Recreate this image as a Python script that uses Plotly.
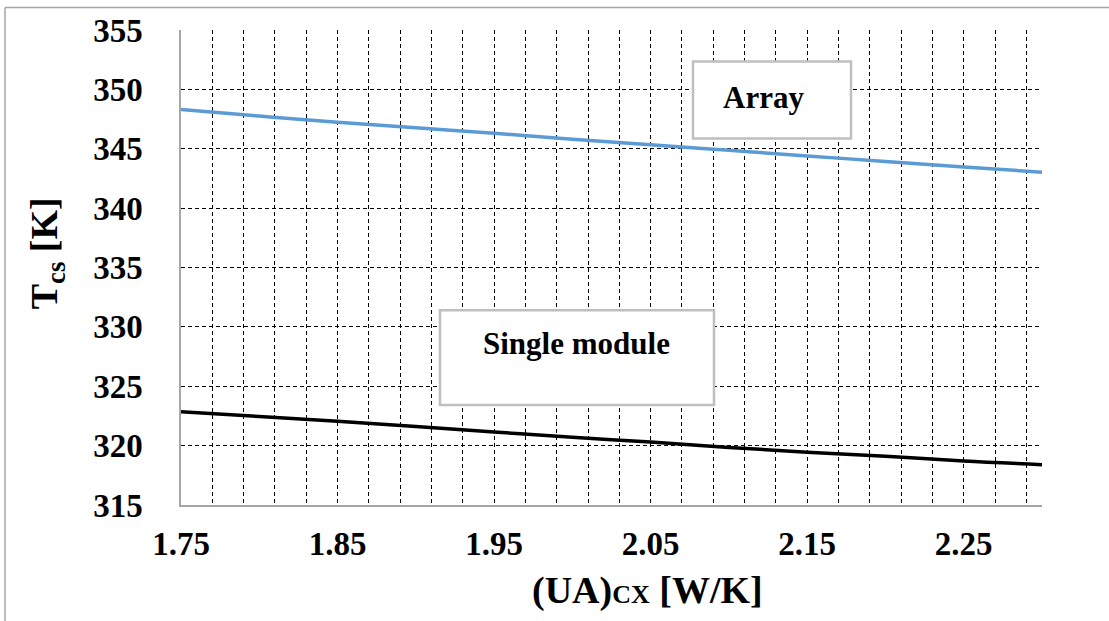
import plotly.graph_objects as go

# ---- data ----
ua_cx = [1.75, 1.80, 1.85, 1.90, 1.95, 2.00, 2.05, 2.10, 2.15, 2.20, 2.25, 2.30]
t_array = [348.3, 347.75, 347.24, 346.76, 346.3, 345.8, 345.34, 344.87, 344.4, 343.92, 343.46, 343.03]
t_single = [322.85, 322.45, 322.05, 321.6, 321.15, 320.7, 320.3, 319.85, 319.45, 319.1, 318.7, 318.4]
x_ticks = [1.75, 1.85, 1.95, 2.05, 2.15, 2.25]
y_ticks = [315, 320, 325, 330, 335, 340, 345, 350, 355]

W, H = 1109, 621
L, R, T, B = 181, 1042, 29.5, 505


def px(x):
    return (x - L) / (R - L)


def py(y):
    return (B - y) / (B - T)


FONT = "Liberation Serif"

fig = go.Figure()
fig.add_trace(go.Scatter(x=ua_cx, y=t_array, mode="lines", name="Array",
                         line=dict(color="#5b9bd5", width=3.5, shape="spline")))
fig.add_trace(go.Scatter(x=ua_cx, y=t_single, mode="lines", name="Single module",
                         line=dict(color="#000000", width=3.5, shape="spline")))

grid = dict(showgrid=True, gridcolor="#000000", gridwidth=1, griddash="4px,3px")

fig.update_layout(
    width=W, height=H,
    margin=dict(l=L, r=W - R, t=T, b=H - B),
    paper_bgcolor="white", plot_bgcolor="white",
    showlegend=False,
    font=dict(family=FONT, color="black"),
    xaxis=dict(
        range=[1.75, 2.30], tickvals=x_ticks, ticktext=[f"<b>{v:.2f}</b>" for v in x_ticks],
        tickfont=dict(family=FONT, size=33, color="black"),
        showline=True, linecolor="#a6a6a6", linewidth=1.5, ticks="", zeroline=False,
        minor=dict(dtick=0.02, tick0=1.75, **grid), ticklabelstandoff=9,
        **grid,
    ),
    yaxis=dict(
        range=[315, 355], tickvals=y_ticks, ticktext=[f"<b>{v}</b>" for v in y_ticks],
        tickfont=dict(family=FONT, size=33, color="black"),
        showline=True, linecolor="#a6a6a6", linewidth=1.5, ticks="", zeroline=False,
        ticklabelstandoff=30,
        **grid,
    ),
)

# axis titles
fig.add_annotation(xref="paper", yref="paper", x=px(647), y=py(591), xanchor="center", yanchor="middle",
                   text="<b>(UA)<span style='font-size:26px'>CX</span> [W/K]</b>", showarrow=False,
                   font=dict(family=FONT, size=38, color="black"))
fig.add_annotation(xref="paper", yref="paper", x=px(47), y=py(253), xanchor="center", yanchor="middle",
                   textangle=-90, text="<b>T<sub>cs</sub> [K]</b>", showarrow=False,
                   font=dict(family=FONT, size=38, color="black"))

# label boxes
fig.add_shape(type="rect", xref="paper", yref="paper",
              x0=px(693), x1=px(851), y0=py(138), y1=py(61),
              line=dict(color="#bfbfbf", width=2.5), fillcolor="white", layer="above")
fig.add_annotation(xref="paper", yref="paper", x=px(763), y=py(97), xanchor="center", yanchor="middle",
                   text="<b>Array</b>", showarrow=False, font=dict(family=FONT, size=31, color="black"))
fig.add_shape(type="rect", xref="paper", yref="paper",
              x0=px(440), x1=px(714), y0=py(405), y1=py(310),
              line=dict(color="#bfbfbf", width=2.5), fillcolor="white", layer="above")
fig.add_annotation(xref="paper", yref="paper", x=px(576), y=py(343), xanchor="center", yanchor="middle",
                   text="<b>Single module</b>", showarrow=False, font=dict(family=FONT, size=31, color="black"))

# outer frame (top and left edges visible)
fig.add_shape(type="line", xref="paper", yref="paper", x0=px(5), x1=px(1109), y0=py(7), y1=py(7),
              line=dict(color="#a6a6a6", width=1.5))
fig.add_shape(type="line", xref="paper", yref="paper", x0=px(5), x1=px(5), y0=py(7), y1=py(621),
              line=dict(color="#a6a6a6", width=1.5))

fig.write_html("out.html")
